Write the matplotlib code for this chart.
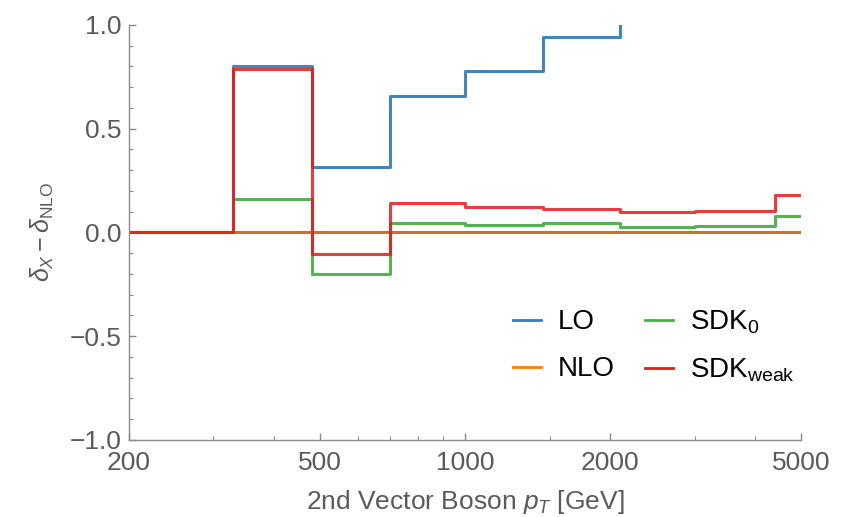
import numpy as np
import matplotlib
matplotlib.use('Agg')
from matplotlib import pyplot as plt
from matplotlib import rc
from matplotlib.lines import Line2D
from matplotlib.ticker import FixedLocator, NullFormatter

rc('font', family=['Liberation Sans', 'DejaVu Sans'])
rc('mathtext', fontset='custom', rm='Liberation Sans',
   it='Liberation Sans:italic', bf='Liberation Sans:bold')

# bin edges of the second vector boson pT (GeV)
edges = [200, 330, 480, 700, 1000, 1450, 2100, 3000, 4400, 5000]

# delta_X - delta_NLO per bin
lo = [0.0, 0.80, 0.313, 0.657, 0.776, 0.941, 1.25, 1.45, 1.65]
nlo = [0.0, 0.0, 0.0, 0.0, 0.0, 0.0, 0.0, 0.0, 0.0]
sdk0 = [0.0, 0.160, -0.202, 0.046, 0.037, 0.043, 0.026, 0.029, 0.080]
sdk_weak = [0.0, 0.785, -0.105, 0.143, 0.120, 0.114, 0.098, 0.101, 0.180]

xticks = [200, 500, 1000, 2000, 5000]
xminor = [300, 400, 600, 700, 800, 900, 1500, 3000, 4000]

grey = '#5a5a5a'
c_lo, c_nlo, c_sdk0, c_weak = '#377eb8', '#ff7f00', '#4daf4a', '#e41a1c'

fig = plt.figure(figsize=(8.47, 5.17), dpi=100)
ax = fig.add_axes([0.152, 0.149, 0.794, 0.803])


def steps(vals):
    return list(vals) + [vals[-1]]


ax.step(edges, steps(nlo), where='post', color='#c4742f', lw=2.2)
ax.step(edges, steps(lo), where='post', color=c_lo, lw=2.2, alpha=0.95)
ax.step(edges, steps(sdk0), where='post', color=c_sdk0, lw=2.2, alpha=0.95)
ax.step(edges, steps(sdk_weak), where='post', color=c_weak, lw=2.2, alpha=0.85)

ax.set_xscale('log')
ax.set_xlim(200, 5000)
ax.set_ylim(-1, 1)

ax.xaxis.set_major_locator(FixedLocator(xticks))
ax.set_xticklabels([str(t) for t in xticks])
ax.xaxis.set_minor_locator(FixedLocator(xminor))
ax.xaxis.set_minor_formatter(NullFormatter())
ax.set_yticks([-1.0, -0.5, 0.0, 0.5, 1.0])
ax.set_yticklabels(['\u22121.0', '\u22120.5', '0.0', '0.5', '1.0'])
ax.yaxis.set_minor_locator(FixedLocator(np.arange(-0.9, 1.0, 0.1)))

for s in ['right', 'top']:
    ax.spines[s].set_visible(False)
for s in ['left', 'bottom']:
    ax.spines[s].set_color('#8a8a8a')
    ax.spines[s].set_linewidth(1.0)

ax.tick_params(which='both', direction='in', color='#8a8a8a',
               labelcolor=grey, labelsize=19)
ax.tick_params(which='major', length=5, width=1)
ax.tick_params(which='minor', length=3, width=0.8)
ax.tick_params(axis='x', pad=8)
ax.tick_params(axis='y', pad=5)

ax.set_xlabel(r'2nd Vector Boson $p_T$ [GeV]', color=grey, fontsize=19, labelpad=9)
ax.set_ylabel(r'$\delta_X - \delta_{\mathrm{NLO}}$', color=grey, fontsize=18, labelpad=10)

handles = [Line2D([], [], color=c, lw=2) for c in (c_lo, c_nlo, c_sdk0, c_weak)]
labels = ['LO', 'NLO', r'SDK$_0$', r'SDK$_{\mathrm{weak}}$']
fig.legend(handles, labels, ncol=2, frameon=False, loc='center',
           bbox_to_anchor=(0.772, 0.330), fontsize=20, handlelength=1.0,
           handletextpad=0.6, columnspacing=1.1, labelspacing=0.75)

fig.savefig('out.png', dpi=100)
